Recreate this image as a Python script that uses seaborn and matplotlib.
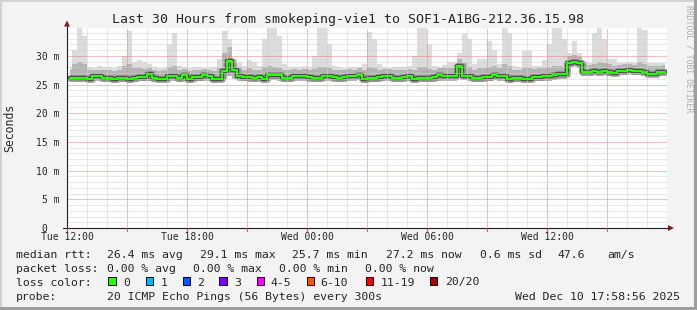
import numpy as np
import pandas as pd
import matplotlib
matplotlib.use("Agg")
import matplotlib.pyplot as plt
import seaborn as sns
from matplotlib.patches import Rectangle, Polygon
from matplotlib.lines import Line2D

# ---------------- data (ms), one value per 15-minute slot, 30 hours ----------------
median_rtt = [
    26.1, 26.1, 26.2, 26.1, 25.9, 26.5, 26.4, 26.2, 26.2, 25.9,
    26.1, 26.1, 25.9, 26.2, 26.3, 26.3, 26.8, 26.1, 26.0, 26.0,
    26.4, 26.4, 26.1, 26.6, 25.9, 26.3, 26.3, 26.6, 26.4, 25.9,
    26.0, 27.4, 29.1, 27.6, 26.5, 26.3, 26.3, 26.2, 26.3, 26.0,
    26.7, 26.7, 26.6, 26.1, 26.2, 26.4, 26.4, 26.4, 26.3, 26.1,
    26.2, 26.4, 26.4, 26.3, 26.2, 26.3, 26.4, 26.4, 26.7, 26.0,
    26.1, 26.2, 26.3, 26.5, 26.5, 26.1, 26.1, 26.3, 26.4, 25.9,
    26.1, 26.2, 26.1, 26.3, 26.6, 26.5, 26.4, 26.5, 28.3, 26.5,
    26.4, 26.1, 26.2, 26.3, 26.3, 26.6, 26.4, 26.5, 25.9, 26.2,
    26.1, 26.0, 26.0, 26.3, 26.3, 26.4, 26.5, 26.6, 26.8, 26.8,
    28.8, 29.0, 28.7, 27.2, 27.1, 27.3, 27.2, 27.4, 27.1, 27.0,
    27.3, 27.4, 27.6, 27.3, 27.3, 27.2, 26.9, 26.9, 27.1, 27.2,
]
smoke_lo = [
    25.6, 25.6, 25.5, 25.6, 25.4, 25.6, 25.6, 25.5, 25.5, 25.3,
    25.5, 25.5, 25.3, 25.5, 25.6, 25.6, 25.7, 25.5, 25.4, 25.4,
    25.6, 25.6, 25.5, 25.7, 25.3, 25.5, 25.6, 25.7, 25.6, 25.3,
    25.4, 25.9, 26.4, 25.9, 25.6, 25.6, 25.5, 25.5, 25.6, 25.4,
    25.8, 25.8, 25.7, 25.4, 25.5, 25.6, 25.6, 25.6, 25.5, 25.4,
    25.5, 25.6, 25.6, 25.5, 25.5, 25.5, 25.6, 25.6, 25.8, 25.3,
    25.4, 25.5, 25.5, 25.6, 25.7, 25.4, 25.4, 25.5, 25.6, 25.2,
    25.4, 25.5, 25.4, 25.5, 25.7, 25.7, 25.6, 25.7, 26.6, 25.8,
    25.6, 25.4, 25.5, 25.5, 25.6, 25.8, 25.6, 25.7, 25.3, 25.5,
    25.5, 25.4, 25.4, 25.6, 25.6, 25.7, 25.7, 25.8, 26.0, 26.0,
    28.0, 28.2, 27.9, 26.6, 26.6, 26.7, 26.6, 26.7, 26.5, 26.5,
    26.6, 26.7, 26.8, 26.6, 26.6, 26.6, 26.4, 26.4, 26.5, 26.6,
]
smoke_hi = [
    27.6, 28.5, 29.0, 28.5, 27.6, 27.5, 27.6, 27.5, 27.6, 27.4,
    27.6, 28.2, 28.5, 27.8, 27.8, 27.7, 27.9, 27.5, 27.4, 27.5,
    28.0, 28.2, 27.6, 27.7, 27.4, 27.6, 27.6, 27.7, 27.6, 27.4,
    27.8, 30.5, 31.5, 29.0, 27.8, 27.6, 27.8, 27.6, 27.6, 28.0,
    28.2, 28.0, 27.8, 27.5, 27.6, 27.7, 27.6, 27.7, 27.6, 27.7,
    28.0, 28.0, 27.8, 27.6, 27.5, 27.6, 27.7, 27.6, 27.9, 27.6,
    28.0, 27.9, 27.6, 27.7, 27.7, 27.5, 27.5, 27.6, 27.7, 27.6,
    28.0, 28.0, 27.7, 27.6, 27.8, 27.8, 27.8, 27.9, 29.5, 28.8,
    28.0, 27.6, 27.8, 27.8, 28.0, 28.2, 27.8, 28.6, 28.2, 27.6,
    27.6, 27.8, 27.8, 27.7, 27.8, 27.9, 28.0, 28.2, 28.2, 28.0,
    30.0, 30.2, 29.8, 28.5, 28.4, 28.6, 28.9, 28.7, 28.5, 28.3,
    28.4, 28.5, 28.6, 28.4, 28.9, 28.6, 28.3, 28.2, 28.3, 28.4,
]
smoke_max = [
    28.0, 31.0, 35.0, 33.5, 28.0, 27.9, 28.2, 28.1, 28.0, 27.9,
    28.2, 30.0, 34.3, 29.0, 29.2, 28.9, 28.5, 28.0, 27.9, 27.9,
    32.0, 34.0, 28.3, 28.0, 27.9, 28.0, 28.1, 27.9, 28.0, 28.0,
    29.5, 34.4, 33.0, 29.5, 28.8, 28.3, 29.3, 29.0, 28.2, 33.0,
    35.0, 35.0, 33.5, 28.5, 28.0, 28.1, 28.0, 28.2, 28.0, 30.0,
    34.8, 34.8, 32.0, 28.3, 28.0, 27.9, 28.0, 28.1, 28.0, 28.6,
    34.1, 33.0, 28.5, 28.0, 27.9, 28.0, 28.1, 28.0, 28.2, 30.0,
    35.0, 35.0, 32.0, 28.3, 28.1, 28.4, 28.9, 28.9, 30.5, 33.8,
    33.0, 28.6, 29.5, 29.5, 32.5, 31.0, 28.5, 35.0, 34.0, 28.3,
    28.1, 30.8, 30.8, 28.2, 28.3, 29.2, 32.0, 35.0, 35.0, 33.0,
    30.5, 32.5, 30.5, 29.0, 28.8, 34.0, 35.0, 33.0, 29.5, 29.5,
    28.8, 28.7, 28.9, 28.7, 35.0, 34.5, 28.8, 28.7, 28.7, 28.8,
]

x_tick_hours = [0, 6, 12, 18, 24]
x_tick_labels = ["Tue 12:00", "Tue 18:00", "Wed 00:00", "Wed 06:00", "Wed 12:00"]
y_tick_values = [0, 5, 10, 15, 20, 25, 30]
y_tick_labels = ["0  ", "5 m", "10 m", "15 m", "20 m", "25 m", "30 m"]

title = "Last 30 Hours from smokeping-vie1 to SOF1-A1BG-212.36.15.98"
rtt_items = ["26.4 ms avg", "29.1 ms max", "25.7 ms min", "27.2 ms now", "0.6 ms sd", "47.6", "am/s"]
loss_items = ["0.00 % avg", "0.00 % max", "0.00 % min", "0.00 % now"]
loss_labels = ["0", "1", "2", "3", "4-5", "6-10", "11-19", "20/20"]
loss_colors = ["#26ff00", "#00b8ff", "#0059ff", "#7e00ff", "#ff00ff", "#ff5500", "#ff0000", "#a10000"]
probe_text = "20 ICMP Echo Pings (56 Bytes) every 300s"
stamp_text = "Wed Dec 10 17:58:56 2025"

# ---------------- figure ----------------
W, H = 697, 310
sns.set_style("white")
plt.rcParams['font.family'] = ['DejaVu Sans Mono', 'DejaVu Sans']

fig = plt.figure(figsize=(W / 100, H / 100), dpi=100, facecolor='#f3f3f3')


def fx(x):
    return x / W


def fy(y):
    return 1 - y / H


ax = fig.add_axes([fx(67), fy(228), 600 / W, 200 / H])
ax.set_facecolor('white')

slot = 0.25
hours = np.arange(len(median_rtt)) * slot + slot / 2
df = pd.DataFrame({"hour": hours, "median": median_rtt})

ax.fill_between(hours, smoke_lo, smoke_max, step='mid', color='#dcdcdc', lw=0, zorder=1)
ax.fill_between(hours, smoke_lo, smoke_hi, step='mid', color='#b4b4b4', lw=0, zorder=1.2)
sns.lineplot(data=df, x="hour", y="median", ax=ax, color='#8c8c8c', lw=5.0, alpha=0.8,
             drawstyle='steps-mid', zorder=1.4, legend=False)
sns.lineplot(data=df, x="hour", y="median", ax=ax, color='#4a4a4a', lw=3.0,
             drawstyle='steps-mid', zorder=1.6, legend=False)

# grid (rrdtool draws it over the smoke)
for h in range(1, 30):
    major = (h % 3 == 0)
    ax.axvline(h, color='#e58080' if major else '#d0d0d0', lw=0.72,
               ls=(0, (1, 1)), zorder=2.5)
for v in range(1, 35):
    major = (v % 5 == 0)
    ax.axhline(v, color='#e58080' if major else '#d0d0d0', lw=0.72,
               ls=(0, (1, 1)), zorder=2.5)

sns.lineplot(data=df, x="hour", y="median", ax=ax, color='#26ff00', lw=1.5,
             drawstyle='steps-mid', zorder=4, legend=False)

ax.set_xlim(0, 30)
ax.set_ylim(0, 34.85)
ax.set_xticks(x_tick_hours, x_tick_labels)
ax.set_yticks(y_tick_values, y_tick_labels)
ax.tick_params(axis='x', length=0, pad=3.0, labelsize=7.05)
ax.tick_params(axis='y', length=0, pad=5.5, labelsize=7.05)
ax.set_xlabel("")
ax.set_ylabel("")
for s in ax.spines.values():
    s.set_visible(False)

# axes lines and arrows
fig.add_artist(Line2D([fx(63), fx(668)], [fy(228), fy(228)], color='#1f1f1f', lw=0.8))
fig.add_artist(Line2D([fx(67), fx(67)], [fy(232), fy(26)], color='#1f1f1f', lw=0.8))
fig.add_artist(Polygon([(fx(67), fy(20.5)), (fx(64), fy(26.5)), (fx(70), fy(26.5))],
                       closed=True, color='#7f1f1f', lw=0))
fig.add_artist(Polygon([(fx(674), fy(228)), (fx(668), fy(225)), (fx(668), fy(231))],
                       closed=True, color='#7f1f1f', lw=0))
for h in range(0, 30, 3):
    xp = 67 + 20 * h
    fig.add_artist(Line2D([fx(xp), fx(xp)], [fy(228), fy(231)], color='#de5050', lw=0.8))

# frame shading
fig.add_artist(Rectangle((0, fy(2)), 1, 2 / H, transform=fig.transFigure, color='#d2d2d2', lw=0))
fig.add_artist(Rectangle((0, 0), 2 / W, 1, transform=fig.transFigure, color='#d2d2d2', lw=0))
fig.add_artist(Rectangle((fx(694), 0), 3 / W, 1, transform=fig.transFigure, color='#9e9e9e', lw=0))
fig.add_artist(Rectangle((0, 0), 1, 3 / H, transform=fig.transFigure, color='#9e9e9e', lw=0))

# texts
fig.text(fx(347.5), fy(19), title, ha='center', va='center', fontsize=9.5)
fig.text(fx(10), fy(128), "Seconds", rotation=90, ha='center', va='center', fontsize=8.3)
fig.text(fx(689), fy(5), "RRDTOOL / TOBI OETIKER", rotation=270, ha='center', va='top',
         fontsize=5.9, color='#adadad')

LF = 8.25
rows = [254, 268.5, 281.5, 296.3]


def row_text(x, row, s, **kw):
    fig.text(fx(x), fy(row + 4), s, ha=kw.pop('ha', 'left'), va='baseline', fontsize=LF, **kw)


row_text(16, rows[0], "median rtt:")
for xp, s in zip([107.3, 200, 292, 386.3, 479.7, 557.7, 607], rtt_items):
    row_text(xp, rows[0], s)

row_text(16, rows[1], "packet loss:")
for xp, s in zip([107.3, 193.3, 279.3, 365.3], loss_items):
    row_text(xp, rows[1], s)

row_text(16, rows[2], "loss color:")
box_x = [108.3, 145.7, 182.7, 219.3, 256.7, 306.7, 366, 429.7]
text_x = [123.3, 160.7, 197.3, 234.3, 270.7, 320, 380.3, 445.3]
for bx, tx, lab, col in zip(box_x, text_x, loss_labels, loss_colors):
    fig.add_artist(Rectangle((fx(bx), fy(285.3)), 7.4 / W, 8 / H, transform=fig.transFigure,
                             facecolor=col, edgecolor='black', lw=0.7))
    row_text(tx, rows[2], lab)

row_text(16, rows[3], "probe:")
row_text(107.3, rows[3], probe_text)
row_text(680.3, rows[3], stamp_text, ha='right')

fig.savefig("out.png", dpi=100, facecolor=fig.get_facecolor())
